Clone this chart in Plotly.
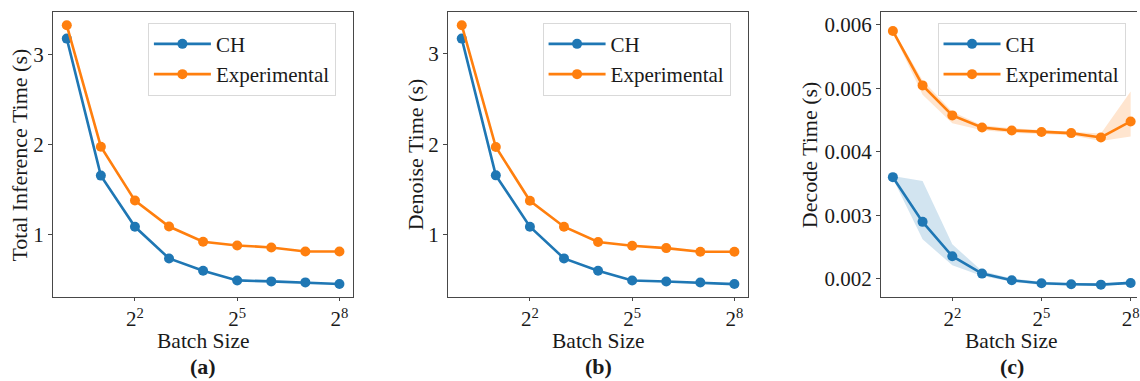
import plotly.graph_objects as go
import math

batch = [1, 2, 4, 8, 16, 32, 64, 128, 256]

total_ch = [3.177, 1.657, 1.089, 0.738, 0.601, 0.494, 0.483, 0.472, 0.454]
total_exp = [3.325, 1.978, 1.380, 1.092, 0.923, 0.882, 0.860, 0.815, 0.815]
denoise_ch = [3.170, 1.657, 1.089, 0.738, 0.601, 0.494, 0.483, 0.472, 0.454]
denoise_exp = [3.318, 1.970, 1.376, 1.089, 0.919, 0.878, 0.852, 0.812, 0.812]
decode_ch = [0.00360, 0.002895, 0.002353, 0.002079, 0.001974, 0.001926, 0.001911, 0.001905, 0.001932]
decode_exp = [0.005905, 0.005047, 0.004574, 0.004384, 0.004337, 0.004311, 0.004295, 0.004226, 0.004479]
decode_ch_upper = [0.00362, 0.00354, 0.00254, 0.00212, 0.00200, 0.00195, 0.00193, 0.00192, 0.00196]
decode_ch_lower = [0.00358, 0.00262, 0.00221, 0.00204, 0.00195, 0.00190, 0.00189, 0.00189, 0.00191]
decode_exp_upper = [0.00593, 0.00513, 0.00463, 0.00442, 0.00437, 0.00434, 0.00432, 0.00429, 0.00495]
decode_exp_lower = [0.00588, 0.00490, 0.00445, 0.00434, 0.00430, 0.00428, 0.00426, 0.00417, 0.00424]

x_tickvals = [4, 32, 256]
x_ticktext = ["2<sup>2</sup>", "2<sup>5</sup>", "2<sup>8</sup>"]
y_titles = ["Total Inference Time (s)", "Denoise Time (s)", "Decode Time (s)"]
captions = ["(a)", "(b)", "(c)"]

W, H = 1140, 381
BLUE = "#1f77b4"
ORANGE = "#ff7f0e"
FONT = "Liberation Serif, Times New Roman, serif"
SPINE = "#474747"
TXT = "#1a1a1a"

fig = go.Figure()

def px_x(p):
    return p / W

def px_y(p):
    return 1 - p / H

boxes = [(53.3, 354.0), (449.3, 750.0), (883.3, 1140.0)]
title_centers = [(53.3 + 354.0) / 2, (449.3 + 750.0) / 2, (883.3 + 1145.6) / 2]
top_px, bot_px = 12.3, 297.0
L2 = math.log10(2)
x_ranges = [[-0.4 * L2, 8.4 * L2], [-0.4 * L2, 8.4 * L2], [-0.4 * L2, 8.214 * L2]]
y_ranges = [[0.310, 3.469], [0.311, 3.461], [0.00171, 0.0062]]
y_ticks = [[1, 2, 3], [1, 2, 3], [0.002, 0.003, 0.004, 0.005, 0.006]]
y_ticktext = [["1", "2", "3"], ["1", "2", "3"], ["0.002", "0.003", "0.004", "0.005", "0.006"]]
ytitle_x = [20.0, 416.7, 811.7]
legend_boxes = [(148.3, 22.7), (544.0, 22.7), (940.0, 22.7)]

series = [
    (total_ch, total_exp),
    (denoise_ch, denoise_exp),
    (decode_ch, decode_exp),
]

# shaded bands for panel c
fig.add_trace(go.Scatter(x=batch, y=decode_ch_upper, mode="lines", line=dict(width=0, color=BLUE),
                         showlegend=False, hoverinfo="skip", xaxis="x3", yaxis="y3"))
fig.add_trace(go.Scatter(x=batch, y=decode_ch_lower, mode="lines", line=dict(width=0, color=BLUE),
                         fill="tonexty", fillcolor="rgba(31,119,180,0.2)",
                         showlegend=False, hoverinfo="skip", xaxis="x3", yaxis="y3"))
fig.add_trace(go.Scatter(x=batch, y=decode_exp_upper, mode="lines", line=dict(width=0, color=ORANGE),
                         showlegend=False, hoverinfo="skip", xaxis="x3", yaxis="y3"))
fig.add_trace(go.Scatter(x=batch, y=decode_exp_lower, mode="lines", line=dict(width=0, color=ORANGE),
                         fill="tonexty", fillcolor="rgba(255,127,14,0.2)",
                         showlegend=False, hoverinfo="skip", xaxis="x3", yaxis="y3"))

layout = dict(
    width=W, height=H,
    margin=dict(l=0, r=0, t=0, b=0),
    paper_bgcolor="white", plot_bgcolor="white",
    font=dict(family=FONT, size=21, color=TXT),
    showlegend=True,
)

annotations = []
for i in range(3):
    sfx = "" if i == 0 else str(i + 1)
    leg = "legend" if i == 0 else "legend" + str(i + 1)
    ch, ex = series[i]
    fig.add_trace(go.Scatter(x=batch, y=ch, mode="lines+markers", name="CH",
                             line=dict(color=BLUE, width=2.6), marker=dict(size=10, color=BLUE),
                             xaxis="x" + sfx, yaxis="y" + sfx, legend=leg))
    fig.add_trace(go.Scatter(x=batch, y=ex, mode="lines+markers", name="Experimental",
                             line=dict(color=ORANGE, width=2.6), marker=dict(size=10, color=ORANGE),
                             xaxis="x" + sfx, yaxis="y" + sfx, legend=leg))
    l, r = boxes[i]
    layout["xaxis" + sfx] = dict(
        domain=[px_x(l), px_x(r)], type="log", range=x_ranges[i],
        tickvals=x_tickvals, ticktext=x_ticktext, ticks="outside", ticklen=3,
        tickcolor=SPINE, showline=True, linecolor=SPINE, linewidth=1.3, mirror=True,
        showgrid=False, zeroline=False, anchor="y" + sfx, ticklabeloverflow="allow",
        tickfont=dict(size=21, family=FONT, color=TXT),
    )
    layout["yaxis" + sfx] = dict(
        domain=[px_y(bot_px), px_y(top_px)], range=y_ranges[i],
        tickvals=y_ticks[i], ticktext=y_ticktext[i], ticks="outside", ticklen=4,
        tickcolor=SPINE, showline=True, linecolor=SPINE, linewidth=1.3,
        mirror=(i < 2), showgrid=False, zeroline=False, anchor="x" + sfx,
        tickfont=dict(size=21, family=FONT, color=TXT),
    )
    lx, ly = legend_boxes[i]
    layout[leg] = dict(
        x=px_x(lx), y=px_y(ly), xanchor="left", yanchor="top", traceorder="normal",
        bgcolor="rgba(255,255,255,0.8)", bordercolor="#d9d9d9", borderwidth=1,
        font=dict(size=21, family=FONT, color=TXT), itemwidth=57,
    )
    cx = title_centers[i]
    annotations.append(dict(x=px_x(cx), y=px_y(341), xref="paper", yref="paper",
                            text="Batch Size", showarrow=False, xanchor="center", yanchor="middle",
                            font=dict(size=21.5, family=FONT, color=TXT)))
    annotations.append(dict(x=px_x(cx), y=0, xref="paper", yref="paper",
                            text="<b>" + captions[i] + "</b>", showarrow=False, xanchor="center",
                            yanchor="bottom", font=dict(size=22, family=FONT, color=TXT)))
    annotations.append(dict(x=px_x(ytitle_x[i]), y=px_y((top_px + bot_px) / 2), xref="paper", yref="paper",
                            text=y_titles[i], showarrow=False, textangle=-90, xanchor="center",
                            yanchor="middle", font=dict(size=22, family=FONT, color=TXT)))

layout["annotations"] = annotations
fig.update_layout(**layout)
fig.write_html("out.html")
